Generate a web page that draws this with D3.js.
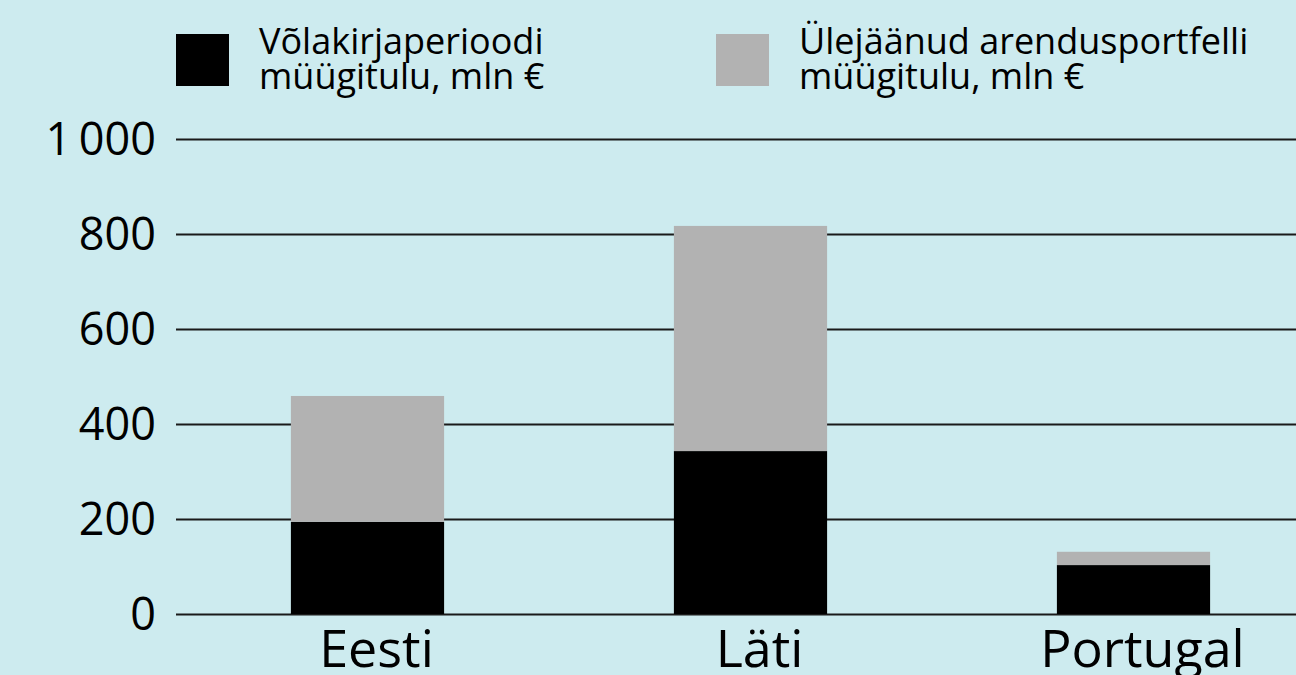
<!DOCTYPE html>
<html>
<head>
<meta charset="utf-8">
<script src="https://cdn.jsdelivr.net/npm/d3@7"></script>
<style>
  html, body { margin: 0; padding: 0; background: #cdebef; }
  svg { display: block; font-family: "Open Sans", "Noto Sans", sans-serif; }
</style>
</head>
<body>
<svg id="chart" width="1296" height="675"></svg>
<script>
// data
const categories = ["Eesti", "Läti", "Portugal"];
const bondPeriod = [194, 343, 103];
const restPortfolio = [265, 474, 28];
const seriesNames = [
  ["Võlakirjaperioodi", "müügitulu, mln €"],
  ["Ülejäänud arendusportfelli", "müügitulu, mln €"]
];
const yTicks = [0, 200, 400, 600, 800, 1000];
const colors = ["#000000", "#b2b2b2"];

const fontFam = '"Open Sans", "Noto Sans", sans-serif';
const svg = d3.select("#chart");
const width = 1296, height = 675;

svg.append("rect")
  .attr("width", width)
  .attr("height", height)
  .attr("fill", "#cdebef");

const x = d3.scaleBand()
  .domain(categories)
  .range([176, 1325])
  .paddingInner(0.6)
  .paddingOuter(0.3);

const y = d3.scaleLinear()
  .domain([0, 1000])
  .range([614, 139]);

// gridlines + tick labels
const yAxis = svg.append("g")
  .attr("transform", "translate(176,0)")
  .call(d3.axisLeft(y)
    .tickValues(yTicks)
    .tickSize(-(width - 176))
    .tickPadding(20)
    .tickFormat(d => d3.format(",")(d).replace(",", "\u2009")))
  .attr("font-family", fontFam);

yAxis.select(".domain").remove();
yAxis.selectAll(".tick line")
  .attr("stroke", "#1a1a1a")
  .attr("stroke-width", 2);
yAxis.selectAll(".tick text")
  .attr("fill", "#000")
  .attr("font-size", 45)
  .attr("dy", "0.34em");

// stacked bars
const rows = categories.map((c, i) => ({ cat: c, a: bondPeriod[i], b: restPortfolio[i] }));
const stack = d3.stack().keys(["a", "b"])(rows);

svg.append("g")
  .selectAll("g")
  .data(stack)
  .join("g")
  .attr("fill", (d, i) => colors[i])
  .selectAll("rect")
  .data(d => d)
  .join("rect")
  .attr("x", d => x(d.data.cat))
  .attr("width", x.bandwidth())
  .attr("y", d => y(d[1]))
  .attr("height", d => y(d[0]) - y(d[1]));

// category labels
svg.append("g")
  .selectAll("text")
  .data(categories)
  .join("text")
  .attr("x", d => x(d) + x.bandwidth() / 2 + 9)
  .attr("y", 667)
  .attr("text-anchor", "middle")
  .attr("font-size", 52)
  .attr("fill", "#000")
  .text(d => d);

// legend
const legendX = [176, 716];
const legend = svg.append("g")
  .selectAll("g")
  .data(seriesNames)
  .join("g")
  .attr("transform", (d, i) => `translate(${legendX[i]},34)`);

legend.append("rect")
  .attr("width", 53)
  .attr("height", 52)
  .attr("fill", (d, i) => colors[i]);

legend.append("text")
  .attr("x", 83)
  .attr("y", 20)
  .attr("font-size", 36)
  .attr("fill", "#000")
  .selectAll("tspan")
  .data(d => d)
  .join("tspan")
  .attr("x", 83)
  .attr("dy", (d, i) => i === 0 ? 0 : 35)
  .text(d => d);
</script>
</body>
</html>
